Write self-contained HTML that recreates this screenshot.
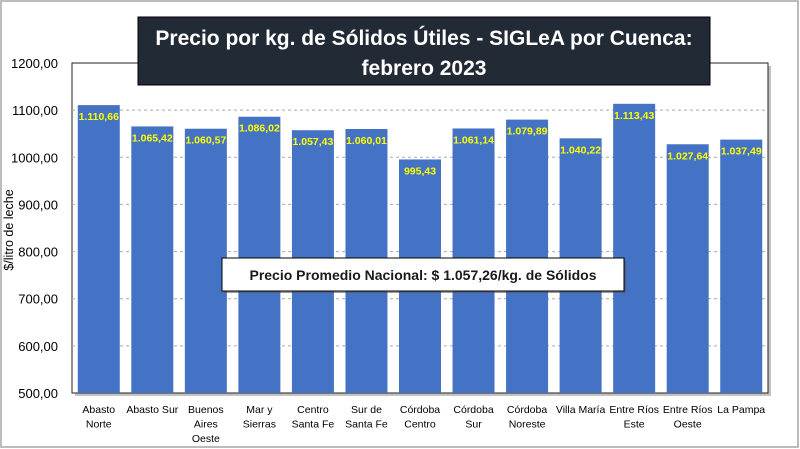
<!DOCTYPE html>
<html><head><meta charset="utf-8"><style>
body{margin:0;background:#fff;}
svg{display:block;font-family:"Liberation Sans",sans-serif;}
</style></head><body>
<svg id="c" width="800" height="449">
<rect x="1" y="1" width="797" height="446" fill="#fff" stroke="#a6a6a6" stroke-width="1.5"/>
<rect x="75" y="66" width="696" height="330" fill="#888" opacity="0.5"/>
<rect x="72" y="63" width="696" height="330" fill="#fff" stroke="#222" stroke-width="1"/>
<g id="grid"></g><g id="bars"></g><g id="labels"></g><g id="yt"></g><g id="xt"></g>
<text x="13" y="230" transform="rotate(-90 13 230)" text-anchor="middle" font-size="12.5" fill="#000">$/litro de leche</text>
<rect x="138" y="17" width="572" height="68" fill="#222a35" stroke="#000"/>
<text x="424" y="45" text-anchor="middle" font-size="21" font-weight="bold" fill="#fff">Precio por kg. de Sólidos Útiles - SIGLeA por Cuenca:</text>
<text x="424" y="75" text-anchor="middle" font-size="21" font-weight="bold" fill="#fff">febrero 2023</text>
<rect x="224" y="260" width="402" height="33" fill="#555" opacity="0.6"/>
<rect x="222" y="258" width="402" height="33" fill="#fff" stroke="#000"/>
<text x="423" y="280" text-anchor="middle" font-size="14" font-weight="bold" fill="#1a1a1a">Precio Promedio Nacional: $ 1.057,26/kg. de Sólidos</text>
</svg>
<script>
const categories=[["Abasto","Norte"],["Abasto Sur"],["Buenos","Aires","Oeste"],["Mar y","Sierras"],["Centro","Santa Fe"],["Sur de","Santa Fe"],["Córdoba","Centro"],["Córdoba","Sur"],["Córdoba","Noreste"],["Villa María"],["Entre Ríos","Este"],["Entre Ríos","Oeste"],["La Pampa"]];
const values=[1110.66,1065.42,1060.57,1086.02,1057.43,1060.01,995.43,1061.14,1079.89,1040.22,1113.43,1027.64,1037.49];
const valueLabels=["1.110,66","1.065,42","1.060,57","1.086,02","1.057,43","1.060,01","995,43","1.061,14","1.079,89","1.040,22","1.113,43","1.027,64","1.037,49"];
const yTicks=[500,600,700,800,900,1000,1100,1200];
const yTickLabels=["500,00","600,00","700,00","800,00","900,00","1000,00","1100,00","1200,00"];
const NS="http://www.w3.org/2000/svg";
const X0=72,W=696,YT=63,YB=393,vmin=500,vmax=1200;
const band=W/values.length,bw=42;
function y(v){return YB-(v-vmin)/(vmax-vmin)*(YB-YT);}
function x(i){return X0+i*band;}
function mk(tag,attrs,parent){const e=document.createElementNS(NS,tag);for(const k in attrs)e.setAttribute(k,attrs[k]);document.getElementById(parent).appendChild(e);return e;}
yTicks.forEach((t,i)=>{
 if(t>vmin&&t<vmax){const g=mk('line',{x1:X0,x2:X0+W,y1:y(t),y2:y(t),stroke:'#aaa','stroke-dasharray':'3,3'},'grid');
 
 }
 const l=mk('text',{x:58,y:y(t)+5,'text-anchor':'end','font-size':13,fill:'#000'},'yt');
 l.textContent=yTickLabels[i];
 
 
});
values.forEach((v,i)=>{
 const bx=x(i)+(band-bw)/2;
 const b=mk('rect',{x:bx,y:y(v),width:bw,height:YB-y(v),fill:'#4472c4'},'bars');
 
 
 const t=mk('text',{x:bx+bw/2,y:y(v)+15,'text-anchor':'middle','font-size':10.5,'font-weight':'bold',fill:'#ffff00'},'labels');
 t.textContent=valueLabels[i];
 
 
 categories[i].forEach((s,j)=>{
  const c=mk('text',{x:bx+bw/2,y:413+j*14.5,'text-anchor':'middle','font-size':10.5,fill:'#000'},'xt');
  c.textContent=s;
  
  
 });
});
</script>
</body></html>
